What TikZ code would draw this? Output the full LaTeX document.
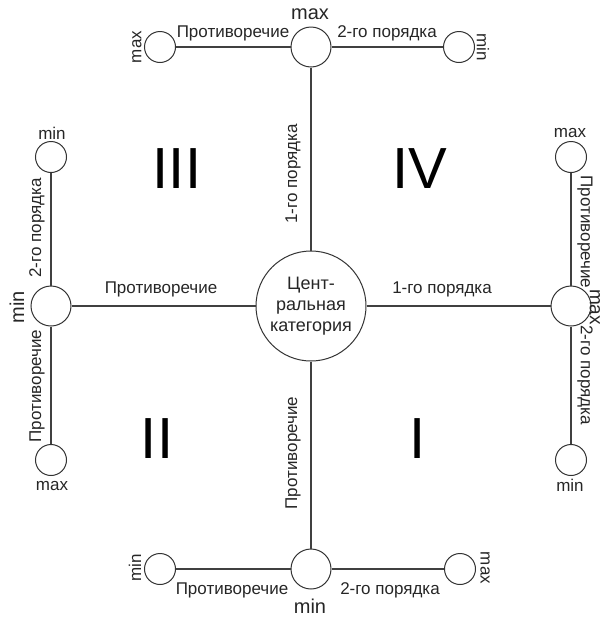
\documentclass[tikz,border=0pt]{standalone}
\usepackage{fontspec}
\setmainfont{Liberation Sans}
\begin{document}
\begin{tikzpicture}[x=1pt,y=-1pt,
  lbl/.style={inner sep=0pt,font=\fontsize{17}{20}\selectfont,text=black!85},
  big/.style={inner sep=0pt,font=\fontsize{20}{24}\selectfont,text=black!85},
  roman/.style={inner sep=0pt,font=\fontsize{58}{64}\selectfont,text=black},
  midc/.style={circle,draw=black!80,line width=1pt,minimum size=40pt,inner sep=0pt},
  smallc/.style={circle,draw=black!80,line width=1pt,minimum size=31pt,inner sep=0pt},
  conn/.style={draw=black!75,line width=1.1pt}]
\useasboundingbox (0,0) rectangle (606,619);
% circles
\node[circle,draw=black!80,line width=1pt,minimum size=110pt,inner sep=0pt,align=center,
  font=\fontsize{18}{21}\selectfont,text=black!85] (C) at (311,306) {Цент-\\ральная\\категория};
\node[midc] (T) at (311,47) {};
\node[midc] (B) at (311,569) {};
\node[midc] (L) at (51,306) {};
\node[midc] (R) at (571,306) {};
\node[smallc] (TL) at (160,47) {};
\node[smallc] (TR) at (459,47) {};
\node[smallc] (BL) at (160,569) {};
\node[smallc] (BR) at (460,569) {};
\node[smallc] (LT) at (51,157) {};
\node[smallc] (LB) at (51,460) {};
\node[smallc] (RT) at (571,157) {};
\node[smallc] (RB) at (571,460) {};
% connectors
\draw[conn] (T) -- (C);
\draw[conn] (C) -- (B);
\draw[conn] (L) -- (C);
\draw[conn] (C) -- (R);
\draw[conn] (TL) -- (T);
\draw[conn] (T) -- (TR);
\draw[conn] (BL) -- (B);
\draw[conn] (B) -- (BR);
\draw[conn] (LT) -- (L);
\draw[conn] (L) -- (LB);
\draw[conn] (RT) -- (R);
\draw[conn] (R) -- (RB);
% main labels
\node[lbl,rotate=90] (m1) at (293,174) {1-го порядка};
\node[lbl,rotate=90] (m2) at (293,453) {Противоречие};
\node[lbl] (m3) at (161,289) {Противоречие};
\node[lbl] (m4) at (442,289) {1-го порядка};
% top
\node[big] (tmax) at (310,14) {max};
\node[lbl] (t1) at (233,33) {Противоречие};
\node[lbl] (t2) at (387,33) {2-го порядка};
\node[lbl,rotate=90] (t3) at (137,47) {max};
\node[lbl,rotate=-90] (t4) at (483,47) {min};
% left
\node[lbl] (l1) at (52,133) {min};
\node[lbl,rotate=90] (l2) at (37,228) {2-го порядка};
\node[big,rotate=90] (l3) at (17,307) {min};
\node[lbl,rotate=90] (l4) at (37,386) {Противоречие};
\node[lbl] (l5) at (52,486) {max};
% right
\node[lbl] (r1) at (570,133) {max};
\node[lbl,rotate=-90] (r2) at (585,232) {Противоречие};
\node[big,rotate=-90,font=\fontsize{19}{23}\selectfont] (r3) at (595,307) {max};
\node[lbl,rotate=-90] (r4) at (585,375) {2-го порядка};
\node[lbl] (r5) at (570,485) {min};
% bottom
\node[lbl,rotate=90] (b1) at (135,568) {min};
\node[lbl,rotate=-90] (b2) at (485,568) {max};
\node[lbl] (b3) at (232,590) {Противоречие};
\node[lbl] (b4) at (390,590) {2-го порядка};
\node[big] (b5) at (310,606) {min};
% quadrants
\node[roman] (q3) at (177,169) {III};
\node[roman] (q4) at (420,169) {IV};
\node[roman] (q2) at (157,439) {II};
\node[roman] (q1) at (418,439) {I};
\end{tikzpicture}
\end{document}
